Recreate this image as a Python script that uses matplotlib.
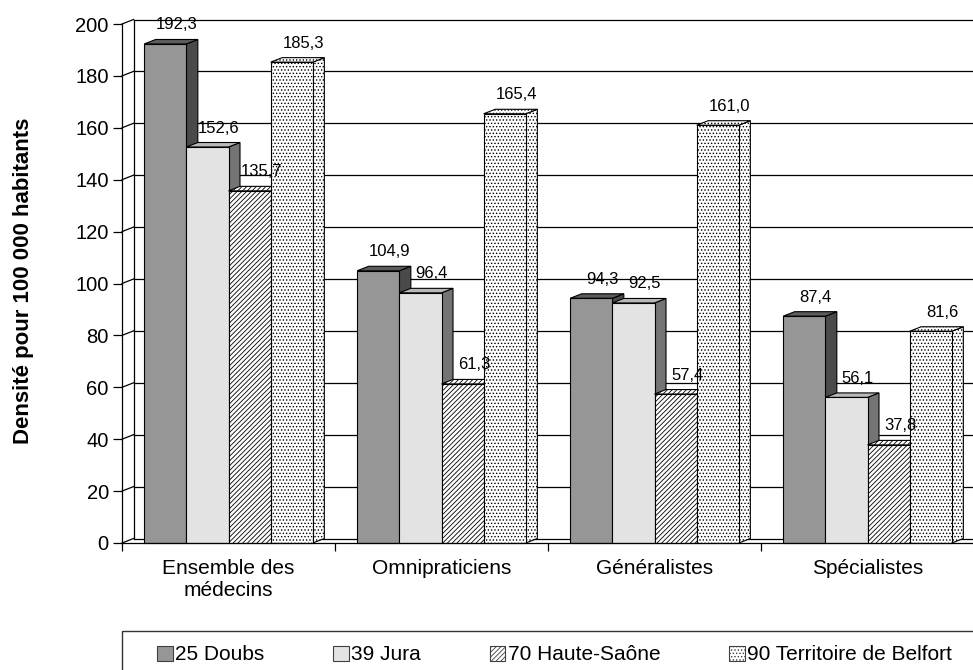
import matplotlib
matplotlib.use('Agg')
import matplotlib.pyplot as plt
from matplotlib.patches import Polygon, Rectangle, Patch

# ----------------------------------------------------------------------------
#  DATA
# ----------------------------------------------------------------------------
categories   = ['Ensemble des\nmédecins', 'Omnipraticiens', 'Généralistes', 'Spécialistes']
series_names = ['25 Doubs', '39 Jura', '70 Haute-Saône', '90 Territoire de Belfort']
doubs        = [192.3, 104.9, 94.3, 87.4]
jura         = [152.6, 96.4, 92.5, 56.1]
haute_saone  = [135.7, 61.3, 57.4, 37.8]
belfort      = [185.3, 165.4, 161.0, 81.6]
y_ticks      = [0, 20, 40, 60, 80, 100, 120, 140, 160, 180, 200]

series_values = [doubs, jura, haute_saone, belfort]

# ----------------------------------------------------------------------------
#  STYLE
# ----------------------------------------------------------------------------
plt.rcParams['font.family'] = ['Liberation Sans', 'DejaVu Sans']
plt.rcParams['hatch.linewidth'] = 0.6

front_colors = ['#969696', '#e3e3e3', 'white', 'white']
top_colors   = ['#5c5c5c', '#b8b8b8', 'white', 'white']
side_colors  = ['#4a4a4a', '#747474', 'white', 'white']
hatches      = [None, None, '///////', '.....']

W, H, DPI = 973, 670, 100
fig = plt.figure(figsize=(W / DPI, H / DPI), dpi=DPI)

# axes box in pixels (front plane)
ax_left, ax_right, ax_top, ax_bottom = 122, 973, 24, 543
ax = fig.add_axes([ax_left / W, (H - ax_bottom) / H,
                   (ax_right - ax_left) / W, (ax_bottom - ax_top) / H])

px_per_x = 213.0
px_per_y = (ax_bottom - ax_top) / 200.0
x_min = -0.5
ax.set_xlim(x_min, x_min + (ax_right - ax_left) / px_per_x)
ax.set_ylim(0, 200)

# 3D depth offset
dx = 11.5 / px_per_x
dy = 4.5 / px_per_y
bar_w = 0.198

# back wall, left wall and floor
x_end = ax.get_xlim()[1]
for v in y_ticks:
    ax.plot([x_min + dx, x_end], [v + dy, v + dy], color='black', lw=0.9,
            zorder=1, clip_on=False)
    ax.plot([x_min, x_min + dx], [v, v + dy], color='black', lw=0.9,
            zorder=1, clip_on=False)
ax.plot([x_min + dx, x_min + dx], [dy, 200 + dy], color='black', lw=0.9,
        zorder=1, clip_on=False)

# bars
for g in range(len(categories)):
    x0 = g - 2 * bar_w
    for s, vals in enumerate(series_values):
        v = vals[g]
        x = x0 + s * bar_w
        z = 3 + s
        front = Rectangle((x, 0), bar_w, v, facecolor=front_colors[s],
                          edgecolor='black', lw=0.8, hatch=hatches[s], zorder=z)
        side = Polygon([(x + bar_w, 0), (x + bar_w + dx, dy),
                        (x + bar_w + dx, v + dy), (x + bar_w, v)],
                       closed=True, facecolor=side_colors[s], edgecolor='black',
                       lw=0.8, hatch=hatches[s], zorder=z)
        top = Polygon([(x, v), (x + dx, v + dy), (x + bar_w + dx, v + dy),
                       (x + bar_w, v)],
                      closed=True, facecolor=top_colors[s], edgecolor='black',
                      lw=0.8, hatch=hatches[s], zorder=z)
        for p in (side, top, front):
            p.set_clip_on(False)
            ax.add_patch(p)
        ax.annotate(f'{v:.1f}'.replace('.', ','),
                    xy=(x + bar_w / 2 + dx, v + dy), xytext=(0, 7),
                    textcoords='offset pixels', ha='center', va='bottom',
                    fontsize=12, zorder=10)

# axes styling
for sp in ('top', 'right'):
    ax.spines[sp].set_visible(False)
ax.spines['left'].set_linewidth(0.9)
ax.spines['bottom'].set_linewidth(0.9)
ax.spines['bottom'].set_zorder(9)
ax.set_yticks(y_ticks)
ax.tick_params(axis='y', direction='out', length=6.5, width=0.9,
               labelsize=14.5, pad=3)
ax.set_xticks([-0.5, 0.5, 1.5, 2.5])
ax.set_xticklabels([])
ax.tick_params(axis='x', which='major', direction='out', length=5.5, width=0.9)
ax.set_xticks(range(len(categories)), minor=True)
ax.set_xticklabels(categories, minor=True, fontsize=15, linespacing=1.2)
ax.tick_params(axis='x', which='minor', length=0, pad=11.5)
ax.set_facecolor('none')

fig.text(24 / W, 1 - 281 / H, 'Densité pour 100 000 habitants', rotation=90,
         ha='center', va='center', fontsize=16, fontweight='bold')

# legend
handles = [Patch(facecolor=front_colors[s], edgecolor='#404040', lw=0.8,
                 hatch=hatches[s]) for s in range(len(series_names))]
fig.legend(handles, series_names, ncol=4, loc='center left',
           bbox_to_anchor=(157 / W, 1 - 655 / H), frameon=False, fontsize=15,
           handlelength=0.75, handleheight=0.7, handletextpad=0.12,
           columnspacing=3.3, borderpad=0, borderaxespad=0)
fig.patches.append(Rectangle((122 / W, -0.1), 2, (H - 631) / H + 0.1,
                             transform=fig.transFigure, fill=False,
                             edgecolor='#333333', lw=1.0))

fig.savefig('out.png', dpi=DPI)
